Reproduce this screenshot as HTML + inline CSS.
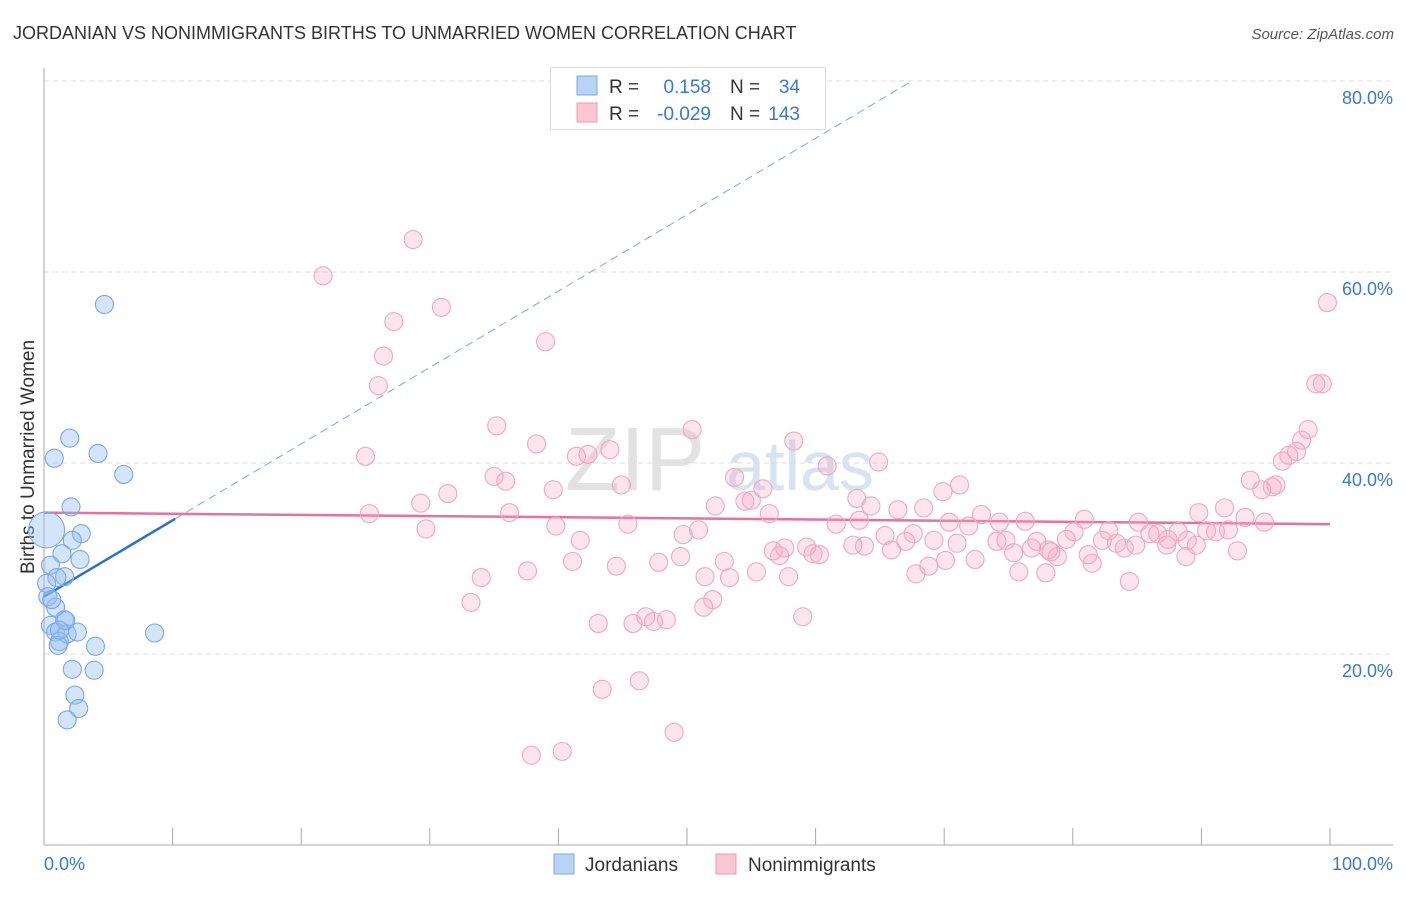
<!DOCTYPE html>
<html><head><meta charset="utf-8">
<style>
body{margin:0;background:#fff;font-family:"Liberation Sans",sans-serif;}
svg text{font-family:"Liberation Sans",sans-serif;}
</style></head>
<body>
<svg id="chart" width="1406" height="892" viewBox="0 0 1406 892" xmlns="http://www.w3.org/2000/svg">
<text x="13" y="39" font-size="18" fill="#333">JORDANIAN VS NONIMMIGRANTS BIRTHS TO UNMARRIED WOMEN CORRELATION CHART</text>
<text x="1394" y="39" font-size="15" fill="#555" font-style="italic" text-anchor="end">Source: ZipAtlas.com</text>
<text x="34" y="457" font-size="19" fill="#333" text-anchor="middle" transform="rotate(-90 34 457)">Births to Unmarried Women</text>
<text x="635" y="490" font-size="90" fill="#e2e2e2" font-family="Liberation Serif" text-anchor="middle">ZIP</text>
<text x="800" y="490" font-size="70" fill="#d6e3f3" text-anchor="middle">atlas</text>
<g id="grid"></g>
<g id="trend"></g>
<g id="points"></g>
<g>
<rect x="550.5" y="67.5" width="275" height="62" fill="#fff" stroke="#ddd"/>
<rect x="577" y="76" width="20" height="19" fill="#b9d3f5" stroke="#7aa8e6"/>
<rect x="577" y="103" width="20" height="19" fill="#fac6d4" stroke="#f09ab3"/>
<text x="609" y="93" font-size="19" fill="#333">R =</text>
<text x="711" y="93" font-size="19" fill="#3a78d4" text-anchor="end">0.158</text>
<text x="730" y="93" font-size="19" fill="#333">N =</text>
<text x="800" y="93" font-size="19" fill="#3a78d4" text-anchor="end">34</text>
<text x="609" y="120" font-size="19" fill="#333">R =</text>
<text x="711" y="120" font-size="19" fill="#3a78d4" text-anchor="end">-0.029</text>
<text x="730" y="120" font-size="19" fill="#333">N =</text>
<text x="800" y="120" font-size="19" fill="#3a78d4" text-anchor="end">143</text>
</g>
<g>
<rect x="554" y="854" width="20" height="20" fill="#b9d3f5" stroke="#7aa8e6"/>
<text x="585" y="871" font-size="19" fill="#333">Jordanians</text>
<rect x="716" y="854" width="20" height="20" fill="#fac6d4" stroke="#f09ab3"/>
<text x="748" y="871" font-size="19" fill="#333">Nonimmigrants</text>
</g>
<text x="44" y="870" font-size="18" fill="#3a78d4">0.0%</text>
<text x="1393" y="870" font-size="18" fill="#3a78d4" text-anchor="end">100.0%</text>
</svg>
<script>
const yTicks=[20,40,60,80];
const yTickLabels=["20.0%","40.0%","60.0%","80.0%"];
const xTickVals=[0,10,20,30,40,50,60,70,80,90,100];
const blueX=[4.7,2.0,0.8,4.2,6.2,2.1,2.9,2.2,1.4,2.8,0.5,1.6,1.0,0.2,0.3,0.9,0.5,1.6,0.9,1.8,2.6,1.2,1.1,4.0,8.6,2.2,3.9,2.4,2.7,1.8,1.7,1.2,0.6];
const blueY=[56.6,42.6,40.5,41.0,38.8,35.4,32.6,31.9,30.5,29.9,29.3,28.1,28.0,27.4,26.0,24.9,23.0,23.6,22.3,22.1,22.3,21.3,20.9,20.8,22.2,18.4,18.3,15.7,14.3,13.1,23.5,22.5,25.7];
const bigBlueX=[0.2];
const bigBlueY=[33.0];
const pinkX=[28.7,21.7,30.9,27.2,26.4,39.0,26.0,99.8,98.9,99.4,35.2,38.3,25.0,42.3,44.0,41.4,50.4,58.3,64.9,60.9,53.7,98.3,97.8,97.4,96.8,96.3,93.8,95.5,94.7,95.8,35.0,35.9,31.4,39.6,44.9,25.3,29.3,36.2,29.7,39.8,45.4,41.7,52.2,54.5,55.0,55.9,56.4,63.2,61.6,63.4,64.3,62.9,63.8,66.4,68.4,69.9,71.2,70.4,72.9,74.3,71.9,76.3,80.9,85.1,89.8,91.8,93.4,94.9,49.7,50.9,41.1,44.5,47.8,49.5,52.9,57.2,59.3,59.8,60.3,56.7,57.6,65.9,65.4,67.0,67.6,69.2,71.0,72.4,74.1,74.8,75.4,76.8,77.2,78.8,78.3,79.5,80.1,81.2,82.3,81.5,82.8,83.4,84.0,84.9,86.0,86.6,87.3,88.2,88.9,89.6,90.4,91.1,92.1,92.8,88.8,70.1,67.8,68.8,75.8,77.9,84.4,34.0,37.6,51.4,53.3,55.4,57.9,33.2,43.1,45.8,46.8,47.4,48.4,52.0,51.3,59.0,43.4,46.3,49.0,37.9,40.3,78.1,87.4];
const pinkY=[63.4,59.6,56.3,54.8,51.2,52.7,48.1,56.8,48.3,48.3,43.9,42.0,40.7,40.9,41.4,40.7,43.5,42.3,40.1,39.7,38.5,43.5,42.4,41.2,40.8,40.2,38.2,37.5,37.2,37.7,38.6,38.1,36.8,37.2,37.7,34.7,35.8,34.8,33.1,33.4,33.6,31.9,35.5,36.0,36.1,37.3,34.7,36.3,33.6,34.0,35.5,31.4,31.3,35.1,35.3,37.0,37.7,33.8,34.6,33.8,33.4,33.9,34.1,33.8,34.8,35.3,34.3,33.8,32.5,33.0,29.7,29.2,29.6,30.2,29.7,30.3,31.2,30.5,30.4,30.8,31.1,30.9,32.4,31.8,32.6,31.9,31.6,29.9,31.8,31.9,30.6,31.1,31.8,30.2,30.7,32.0,32.8,30.4,31.9,29.5,32.9,31.6,31.1,31.4,32.6,32.6,31.4,32.8,31.9,31.4,32.9,32.8,33.0,30.8,30.2,29.8,28.4,29.2,28.6,28.5,27.6,28.0,28.7,28.1,28.0,28.6,28.1,25.4,23.2,23.2,23.9,23.4,23.6,25.7,24.9,23.9,16.3,17.2,11.8,9.4,9.8,30.9,32.0];
const pinkTrend=[34.8,33.6];
const blueTrend=[26.0,0.8,10.2,67.5];

const NS="http://www.w3.org/2000/svg";
const X=v=>44+v*12.86;
const Y=v=>845-v*9.55;
function mk(tag,attrs,parent){const e=document.createElementNS(NS,tag);for(const k in attrs)e.setAttribute(k,attrs[k]);parent.appendChild(e);return e;}
const grid=document.getElementById('grid');
yTicks.forEach((t,i)=>{
  const l=mk('line',{x1:44,x2:1393,y1:Y(t),y2:Y(t),stroke:'#ddd','stroke-dasharray':'5,4'},grid);
  
  
  const tx=mk('text',{x:1393,y:Y(t)+23,'font-size':18,fill:'#3a78d4','text-anchor':'end'},grid);
  tx.textContent=yTickLabels[i];
  
  
});
const ax=mk('line',{x1:44,x2:44,y1:68,y2:845,stroke:'#aaa'},grid);


const bx=mk('line',{x1:44,x2:1393,y1:845,y2:845,stroke:'#aaa'},grid);


xTickVals.forEach(t=>{
  const tk=mk('line',{x1:X(t),x2:X(t),y1:828,y2:845,stroke:'#aaa'},grid);
  
  
});
const pts=document.getElementById('points');
pinkX.forEach((x,i)=>{
  const c=mk('circle',{cx:X(x),cy:Y(pinkY[i]),r:9,fill:'rgba(246,170,195,0.3)',stroke:'#f0a8bf','stroke-width':1.1},pts);
  
  
});
blueX.forEach((x,i)=>{
  const c=mk('circle',{cx:X(x),cy:Y(blueY[i]),r:9,fill:'rgba(150,190,240,0.4)',stroke:'#7aa8e6','stroke-width':1.1},pts);
  
  
});
bigBlueX.forEach((x,i)=>{
  const c=mk('circle',{cx:X(x),cy:Y(bigBlueY[i]),r:18,fill:'rgba(150,190,240,0.4)',stroke:'#7aa8e6','stroke-width':1.1},pts);
  
  
});
const tr=document.getElementById('trend');
const pl=mk('line',{x1:X(0),y1:Y(pinkTrend[0]),x2:X(100),y2:Y(pinkTrend[1]),stroke:'#e8709a','stroke-width':2.5},tr);


const bi=blueTrend[0],bs=blueTrend[1];
const bd=mk('line',{x1:X(blueTrend[2]),y1:Y(bi+bs*blueTrend[2]),x2:X(blueTrend[3]),y2:Y(bi+bs*blueTrend[3]),stroke:'#7aa8e6','stroke-width':1,'stroke-dasharray':'8,5'},tr);


const bl=mk('line',{x1:X(0),y1:Y(bi),x2:X(blueTrend[2]),y2:Y(bi+bs*blueTrend[2]),stroke:'#2a6fd6','stroke-width':2.5},tr);


</script>
</body></html>
